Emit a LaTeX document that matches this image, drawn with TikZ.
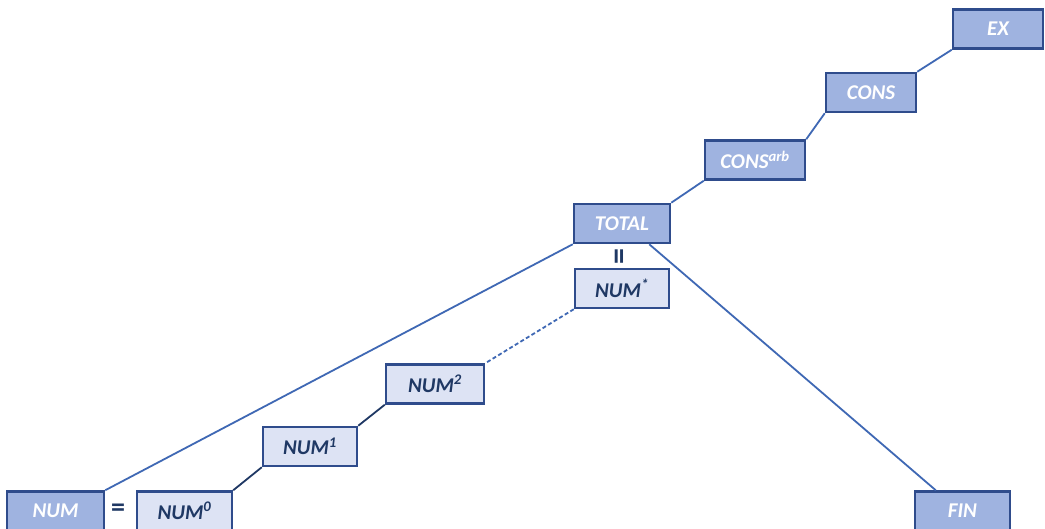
\documentclass[tikz,border=0pt]{standalone}
\usepackage{fontspec}
\setmainfont{Carlito}
\begin{document}
\begin{tikzpicture}[x=1pt,y=-1pt,
  dark/.style={draw=boxline,line width=2.5pt,fill=darkfill,text=white,
    minimum width=#1,minimum height=39pt,inner sep=0pt,
    font=\fontsize{21}{22}\selectfont\bfseries\itshape},
  dark/.default=94pt,
  light/.style={draw=boxline,line width=2.5pt,fill=lightfill,text=lighttext,
    minimum width=94pt,minimum height=39pt,inner sep=0pt,
    font=\fontsize{21}{22}\selectfont\bfseries\itshape},
  link/.style={draw=linkblue,line width=1.8pt},
  eqsign/.style={text=lighttext,font=\fontsize{28}{28}\selectfont\bfseries}]
\definecolor{boxline}{HTML}{2F4C8C}
\definecolor{darkfill}{HTML}{9FB3E0}
\definecolor{lightfill}{HTML}{DDE3F4}
\definecolor{lighttext}{HTML}{1F3864}
\definecolor{linkblue}{HTML}{3F68B4}
\clip (0,0) rectangle (1045,529);
\fill[white] (0,0) rectangle (1045,529);

% upper chain
\node[dark=90pt] (ex) at (998,29) {EX};
\node[dark=90pt] (cons) at (871,92.5) {CONS};
\node[dark=100pt] (consa) at (755,160) {CONS\textsuperscript{arb}};
\node[dark=96pt] (tot) at (622,223.5) {TOTAL};

% number chain
\node[light] (nst) at (622,288.5) {NUM\textsuperscript{*}};
\node[light,minimum width=98pt] (n2) at (435,384) {NUM\textsuperscript{2}};
\node[light] (n1) at (310,446.5) {NUM\textsuperscript{1}};
\node[light,minimum width=95pt] (n0) at (184.5,511) {NUM\textsuperscript{0}};
\node[dark=97pt] (num) at (55.5,511) {NUM};
\node[dark=95pt] (fin) at (962.5,511) {FIN};

% equality marks
\node[eqsign] (eqa) at (118,510) {=};
\node[eqsign,rotate=90,font=\fontsize{32}{32}\selectfont\bfseries] (eqb) at (622,257) {=};

% connectors
\draw[link] (ex.south west) -- (cons.north east);
\draw[link] (cons.south west) -- (consa.north east);
\draw[link] (consa.south west) -- (tot.north east);
\draw[link] (tot.south west) -- (num.north east);
\draw[link] ([xshift=-22pt]tot.south east) -- ([xshift=22pt]fin.north west);
\draw[link,dashed,dash pattern=on 4pt off 2.5pt] (nst.south west) -- (n2.north east);
\draw[link,draw=lighttext] (n2.south west) -- (n1.north east);
\draw[link,draw=lighttext] (n1.south west) -- (n0.north east);
\end{tikzpicture}
\end{document}
